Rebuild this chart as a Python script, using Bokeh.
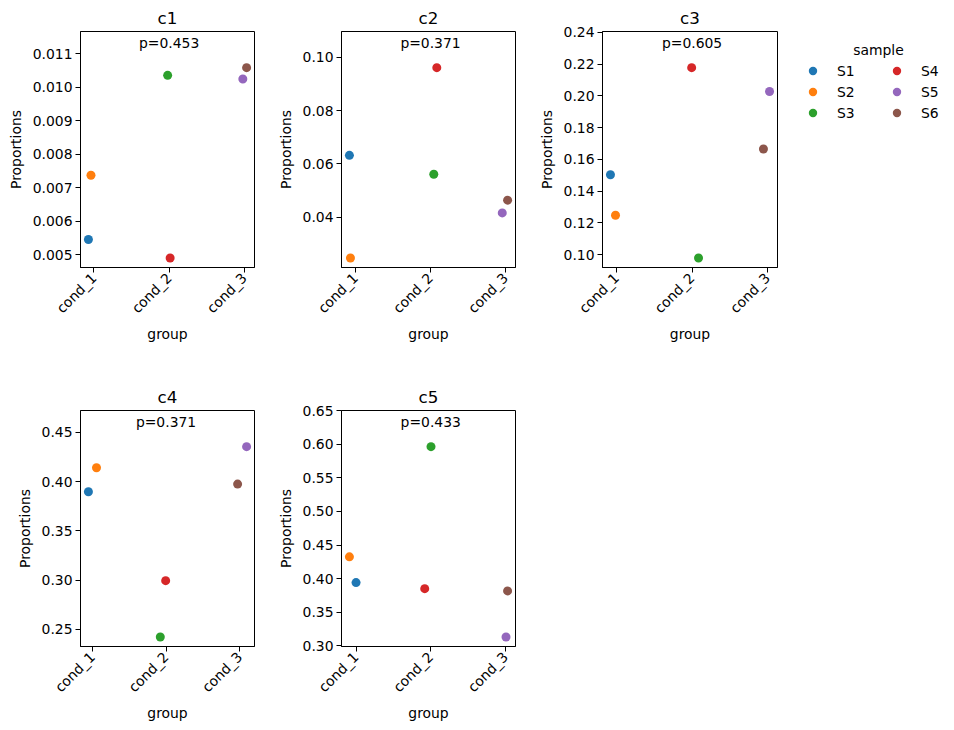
import numpy as np
from bokeh.plotting import figure
from bokeh.layouts import row, column
from bokeh.models import (ColumnDataSource, FixedTicker, Range1d, Label, Legend,
                          LegendItem, PrintfTickFormatter)
from bokeh.embed import file_html
from bokeh.resources import INLINE

FONT = "DejaVu Sans"

# ---------------- data ----------------
groups = ["cond_1", "cond_2", "cond_3"]
samples = ["S1", "S2", "S3", "S4", "S5", "S6"]
sample_group = [0, 0, 1, 1, 2, 2]          # index into groups
sample_colors = ["#1f77b4", "#ff7f0e", "#2ca02c", "#d62728", "#9467bd", "#8c564b"]

cell_types = ["c1", "c2", "c3", "c4", "c5"]
p_values = ["0.453", "0.371", "0.605", "0.371", "0.433"]

prop_c1 = [0.00545, 0.00737, 0.01035, 0.00490, 0.01024, 0.01058]
prop_c2 = [0.0632, 0.0247, 0.0561, 0.0961, 0.0416, 0.0464]
prop_c3 = [0.1503, 0.1248, 0.0979, 0.2177, 0.2027, 0.1665]
prop_c4 = [0.3897, 0.4141, 0.2422, 0.2994, 0.4355, 0.3975]
prop_c5 = [0.3943, 0.4326, 0.5964, 0.3853, 0.3134, 0.3819]

# strip-plot jitter (in category units)
jitter_c1 = [-0.074, -0.040, -0.020, 0.013, -0.020, 0.030]
jitter_c2 = [-0.080, -0.066, 0.044, 0.084, -0.044, 0.027]
jitter_c3 = [-0.081, -0.014, 0.086, -0.005, 0.027, -0.054]
jitter_c4 = [-0.055, 0.055, -0.078, -0.005, 0.095, -0.027]
jitter_c5 = [0.000, -0.089, 0.004, -0.080, 0.009, 0.030]

ticks_c1 = [0.005, 0.006, 0.007, 0.008, 0.009, 0.010, 0.011]
ticks_c2 = [0.04, 0.06, 0.08, 0.10]
ticks_c3 = [0.10, 0.12, 0.14, 0.16, 0.18, 0.20, 0.22, 0.24]
ticks_c4 = [0.25, 0.30, 0.35, 0.40, 0.45]
ticks_c5 = [0.30, 0.35, 0.40, 0.45, 0.50, 0.55, 0.60, 0.65]
tick_formats = ["%.3f", "%.2f", "%.2f", "%.2f", "%.2f"]

props = [prop_c1, prop_c2, prop_c3, prop_c4, prop_c5]
jitters = [jitter_c1, jitter_c2, jitter_c3, jitter_c4, jitter_c5]
yticks = [ticks_c1, ticks_c2, ticks_c3, ticks_c4, ticks_c5]


def style_axis(ax, label_standoff):
    ax.axis_line_color = "black"
    ax.axis_line_width = 1
    ax.major_tick_line_color = "black"
    ax.major_tick_out = 5
    ax.major_tick_in = 0
    ax.minor_tick_line_color = None
    ax.major_label_text_font = FONT
    ax.major_label_text_font_size = "13.9px"
    ax.major_label_text_color = "black"
    ax.major_label_standoff = 3
    ax.axis_label_text_font = FONT
    ax.axis_label_text_font_size = "13.9px"
    ax.axis_label_text_font_style = "normal"
    ax.axis_label_text_color = "black"
    ax.axis_label_standoff = label_standoff


def make_panel(i, width, height, border_right, border_top, border_bottom):
    x = np.array(sample_group, dtype=float) + np.array(jitters[i])
    y = np.array(props[i])
    xs = x.max() - x.min()
    ys = y.max() - y.min()
    xr = Range1d(x.min() - 0.05 * xs, x.max() + 0.05 * xs)
    yr = Range1d(y.min() - 0.05 * ys, y.max() + 0.19 * ys)
    p = figure(width=width, height=height, x_range=xr, y_range=yr,
               min_border_left=80, min_border_right=border_right,
               min_border_top=border_top, min_border_bottom=border_bottom,
               output_backend="svg", toolbar_location=None, title=cell_types[i])
    p.title.align = "center"
    p.title.text_font = FONT
    p.title.text_font_size = "16.7px"
    p.title.text_font_style = "normal"
    p.title.text_color = "black"
    p.title.standoff = 8
    p.xgrid.visible = False
    p.ygrid.visible = False
    p.outline_line_color = "black"
    p.outline_line_width = 1
    p.outline_line_alpha = 1
    p.background_fill_color = "white"
    p.border_fill_color = "white"

    p.xaxis.ticker = FixedTicker(ticks=[0, 1, 2], minor_ticks=[])
    p.xaxis.major_label_overrides = {k: g for k, g in enumerate(groups)}
    p.xaxis.major_label_orientation = np.pi / 4
    p.xaxis.axis_label = "group"
    p.yaxis.ticker = FixedTicker(ticks=yticks[i], minor_ticks=[])
    p.yaxis.formatter = PrintfTickFormatter(format=tick_formats[i])
    p.yaxis.axis_label = "Proportions"
    style_axis(p.xaxis[0], 1)
    style_axis(p.yaxis[0], 6)

    src = ColumnDataSource(dict(x=x, y=y, color=sample_colors, sample=samples))
    p.scatter("x", "y", source=src, size=9, fill_color="color", line_color=None)

    ytext = yr.end - 0.05 * (yr.end - yr.start)
    p.add_layout(Label(x=1, y=ytext, text="p=" + p_values[i], text_align="center",
                       text_baseline="alphabetic", text_font=FONT,
                       text_font_size="13.9px", text_color="black"))
    return p


f1 = make_panel(0, 261, 380, 7, 31, 113)
f2 = make_panel(1, 261, 380, 7, 31, 113)
f3 = make_panel(2, 261, 380, 6, 31, 113)
f4 = make_panel(3, 261, 350, 7, 29, 84)
f5 = make_panel(4, 261, 350, 7, 29, 84)

# ---------------- legend panel ----------------
lg = figure(width=171, height=380, x_range=Range1d(0, 1), y_range=Range1d(0, 1),
            min_border_left=19, min_border_right=0, min_border_top=60, min_border_bottom=0,
            output_backend="svg", toolbar_location=None, title="sample",
            x_axis_location=None, y_axis_location=None)
lg.title.align = "center"
lg.title.offset = -10
lg.title.text_font = FONT
lg.title.text_font_size = "13.9px"
lg.title.text_font_style = "normal"
lg.title.text_color = "black"
lg.title.standoff = 5
lg.xgrid.visible = False
lg.ygrid.visible = False
lg.outline_line_color = None
lg.background_fill_color = "white"
lg.border_fill_color = "white"
key_src = ColumnDataSource(dict(x=list(range(len(samples))), y=[0] * len(samples),
                                color=sample_colors, sample=samples))
key_r = lg.scatter("x", "y", source=key_src, size=9, fill_color="color", line_color=None)
key_r.visible = False
items = [LegendItem(label=s, renderers=[key_r], index=k) for k, s in enumerate(samples)]
legend = Legend(items=items, ncols=2, location="top_left", margin=0, padding=0,
                spacing=0, glyph_width=21, glyph_height=21, label_standoff=14,
                label_width=49, label_text_font=FONT, label_text_font_size="13.9px",
                label_text_color="black", border_line_color=None,
                background_fill_alpha=0, click_policy="none")
lg.add_layout(legend)

layout = row(column(row(f1, f2, f3), row(f4, f5)), lg)

open("out.html", "w").write(file_html(layout, INLINE))
